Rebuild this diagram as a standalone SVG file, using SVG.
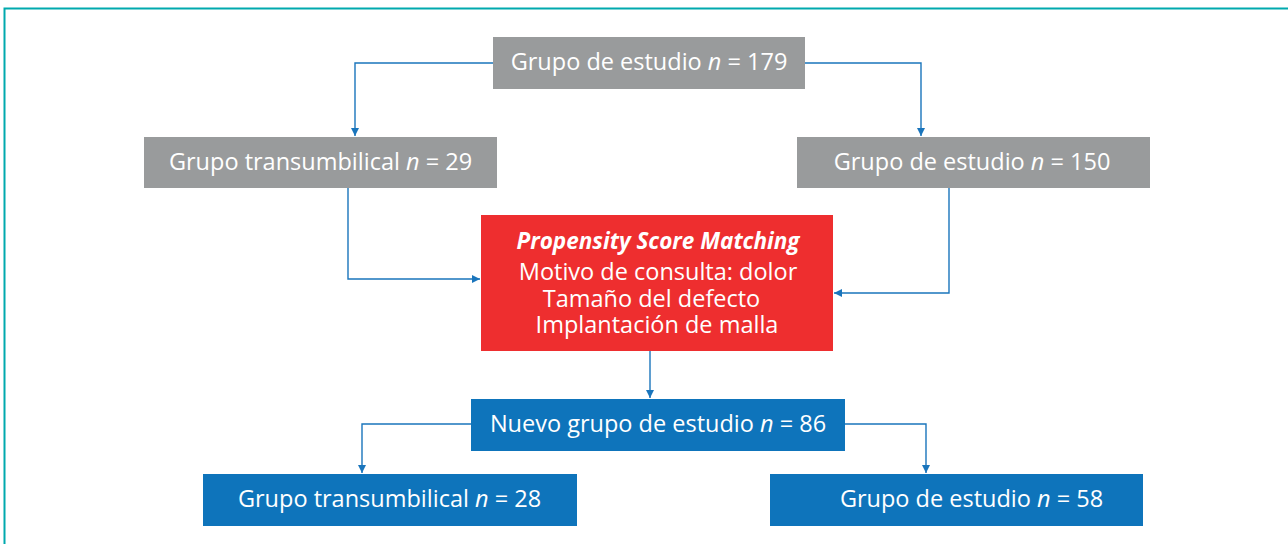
<svg xmlns="http://www.w3.org/2000/svg" width="1288" height="544" viewBox="0 0 1288 544">
<defs>
<style>
.frame{fill:none;stroke:#00a9ae;stroke-width:2}
.gray{fill:#999b9c}
.red{fill:#ee2e2f}
.blue{fill:#0e74bb}
.t{font-family:"Open Sans","Noto Sans","Liberation Sans",sans-serif;font-size:23.5px;fill:#ffffff;text-anchor:middle}
.i{font-style:italic}
.bi{font-style:italic;font-weight:bold;font-size:22.5px}
.c{fill:none;stroke:#1a75bc;stroke-width:1.4;marker-end:url(#ah)}
</style>
<marker id="ah" viewBox="0 0 10 10" refX="10" refY="5" markerWidth="8" markerHeight="8" markerUnits="userSpaceOnUse" orient="auto">
<path d="M0,0 L10,5 L0,10 z" fill="#1a75bc"/>
</marker>
</defs>
<rect class="frame" x="4.5" y="8.5" width="1320" height="600"/>
<g id="connectors">
<path class="c" d="M493,63 H355 V136"/>
<path class="c" d="M805,63 H921 V136"/>
<path class="c" d="M348,188 V279 H480"/>
<path class="c" d="M949,188 V293 H834"/>
<path class="c" d="M650,351 V398"/>
<path class="c" d="M471,424 H362 V473"/>
<path class="c" d="M845,424 H926 V473"/>
</g>
<g id="n1"><rect class="gray" x="493" y="37" width="312" height="52"/>
<text class="t" x="649" y="70">Grupo de estudio <tspan class="i">n</tspan> = 179</text></g>
<g id="n2"><rect class="gray" x="144" y="137" width="353" height="51"/>
<text class="t" x="320.5" y="170">Grupo transumbilical <tspan class="i">n</tspan> = 29</text></g>
<g id="n3"><rect class="gray" x="797" y="137" width="353" height="51"/>
<text class="t" x="972" y="170">Grupo de estudio <tspan class="i">n</tspan> = 150</text></g>
<g id="n4"><rect class="red" x="481" y="215" width="352" height="136"/>
<text class="t"><tspan class="bi" x="658" y="249">Propensity Score Matching</tspan><tspan x="658" y="280">Motivo de consulta: dolor</tspan><tspan x="651.5" y="307">Tamaño del defecto</tspan><tspan x="657" y="333">Implantación de malla</tspan></text></g>
<g id="n5"><rect class="blue" x="471" y="399" width="374" height="52"/>
<text class="t" x="658" y="432">Nuevo grupo de estudio <tspan class="i">n</tspan> = 86</text></g>
<g id="n6"><rect class="blue" x="203" y="474" width="374" height="52"/>
<text class="t" x="389.5" y="507">Grupo transumbilical <tspan class="i">n</tspan> = 28</text></g>
<g id="n7"><rect class="blue" x="770" y="474" width="373" height="52"/>
<text class="t" x="971.5" y="507">Grupo de estudio <tspan class="i">n</tspan> = 58</text></g>
</svg>
